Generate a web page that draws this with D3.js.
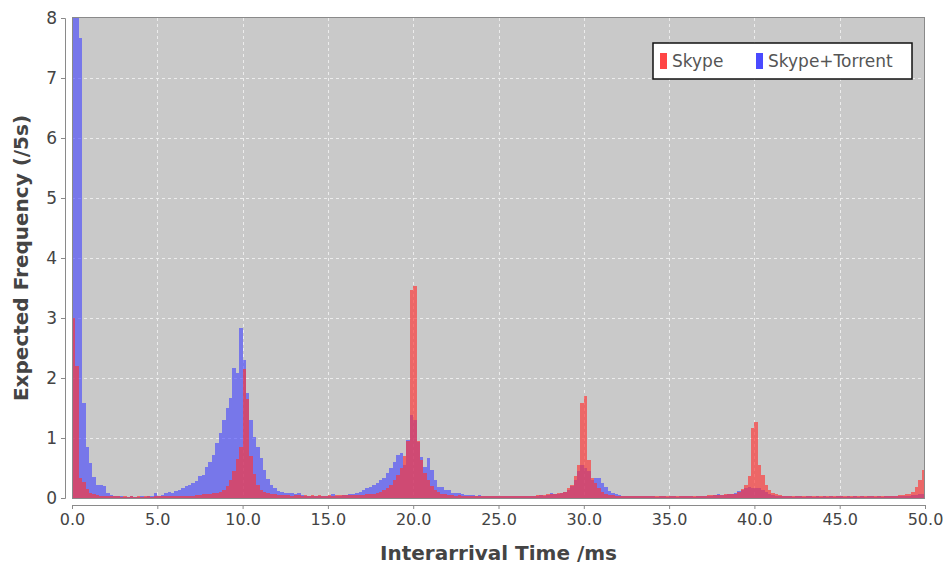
<!DOCTYPE html>
<html>
<head>
<meta charset="utf-8">
<script src="https://cdn.jsdelivr.net/npm/d3@7"></script>
<style>
  body { margin: 0; background: #fff; }
  text { font-family: "DejaVu Sans", sans-serif; }
</style>
</head>
<body>
<svg id="chart" width="950" height="568"></svg>
<script>

// histogram bins, 0.2 ms wide, starting at 0.0
var binWidth = 0.2;
var xTicks = [0, 5, 10, 15, 20, 25, 30, 35, 40, 45, 50];
var yTicks = [0, 1, 2, 3, 4, 5, 6, 7, 8];
var seriesNames = ["Skype", "Skype+Torrent"];

// Skype+Torrent (blue)
var torrent = [
  9.5, 8.8, 7.67, 1.58, 0.85, 0.58, 0.35, 0.22, 0.21, 0.2,
  0.09, 0.05, 0.04, 0.03, 0.03, 0.02, 0.02, 0.03, 0.02, 0.02,
  0.03, 0.02, 0.03, 0.04, 0.08, 0.04, 0.05, 0.08, 0.1, 0.09,
  0.12, 0.14, 0.17, 0.2, 0.22, 0.25, 0.28, 0.36, 0.38, 0.52,
  0.6, 0.72, 0.92, 1.08, 1.3, 1.5, 1.67, 2.17, 2.08, 2.83,
  2.3, 1.75, 1.3, 1.02, 0.85, 0.67, 0.47, 0.32, 0.22, 0.17,
  0.12, 0.1, 0.09, 0.08, 0.08, 0.07, 0.09, 0.05, 0.04, 0.04,
  0.04, 0.04, 0.03, 0.04, 0.03, 0.03, 0.06, 0.04, 0.04, 0.05,
  0.05, 0.06, 0.07, 0.08, 0.1, 0.13, 0.17, 0.19, 0.22, 0.25,
  0.3, 0.33, 0.42, 0.5, 0.6, 0.72, 0.75, 0.55, 0.97, 1.38,
  1.3, 0.94, 0.69, 0.52, 0.67, 0.47, 0.3, 0.19, 0.19, 0.13,
  0.13, 0.09, 0.09, 0.09, 0.06, 0.05, 0.05, 0.05, 0.04, 0.05,
  0.04, 0.04, 0.03, 0.04, 0.03, 0.03, 0.04, 0.03, 0.03, 0.03,
  0.03, 0.04, 0.03, 0.03, 0.04, 0.03, 0.04, 0.05, 0.04, 0.05,
  0.09, 0.06, 0.07, 0.08, 0.1, 0.14, 0.2, 0.3, 0.45, 0.55,
  0.5, 0.45, 0.3, 0.33, 0.33, 0.25, 0.18, 0.12, 0.08, 0.06,
  0.05, 0.04, 0.04, 0.03, 0.03, 0.03, 0.04, 0.03, 0.03, 0.03,
  0.03, 0.02, 0.03, 0.03, 0.02, 0.03, 0.03, 0.02, 0.03, 0.03,
  0.03, 0.03, 0.02, 0.03, 0.03, 0.04, 0.03, 0.04, 0.05, 0.06,
  0.05, 0.05, 0.06, 0.07, 0.09, 0.11, 0.14, 0.16, 0.18, 0.17,
  0.17, 0.16, 0.13, 0.1, 0.07, 0.05, 0.04, 0.04, 0.03, 0.03,
  0.03, 0.02, 0.03, 0.03, 0.02, 0.03, 0.03, 0.02, 0.03, 0.02,
  0.03, 0.02, 0.03, 0.02, 0.03, 0.03, 0.02, 0.03, 0.02, 0.03,
  0.02, 0.03, 0.02, 0.03, 0.03, 0.02, 0.03, 0.02, 0.03, 0.03,
  0.03, 0.03, 0.04, 0.03, 0.04, 0.04, 0.05, 0.05, 0.06, 0.06
];

// Skype alone (red)
var skype = [
  3.0, 2.2, 0.33, 0.27, 0.15, 0.08, 0.06, 0.05, 0.04, 0.04,
  0.03, 0.03, 0.03, 0.03, 0.02, 0.03, 0.02, 0.03, 0.02, 0.03,
  0.02, 0.03, 0.03, 0.02, 0.03, 0.03, 0.03, 0.03, 0.03, 0.03,
  0.03, 0.04, 0.03, 0.04, 0.04, 0.04, 0.05, 0.05, 0.06, 0.06,
  0.07, 0.08, 0.08, 0.1, 0.14, 0.2, 0.3, 0.45, 0.65, 0.85,
  2.15, 1.65, 0.7, 0.4, 0.22, 0.14, 0.1, 0.08, 0.06, 0.06,
  0.05, 0.05, 0.05, 0.05, 0.04, 0.05, 0.05, 0.04, 0.05, 0.04,
  0.05, 0.04, 0.05, 0.04, 0.04, 0.05, 0.04, 0.05, 0.05, 0.05,
  0.05, 0.05, 0.05, 0.05, 0.05, 0.05, 0.06, 0.06, 0.07, 0.08,
  0.1, 0.13, 0.17, 0.22, 0.3, 0.38, 0.5, 0.7, 0.95, 3.46,
  3.53, 0.95, 0.63, 0.42, 0.3, 0.2, 0.14, 0.1, 0.07, 0.06,
  0.05, 0.05, 0.04, 0.05, 0.04, 0.04, 0.04, 0.04, 0.04, 0.04,
  0.04, 0.04, 0.04, 0.03, 0.04, 0.04, 0.03, 0.04, 0.04, 0.04,
  0.04, 0.04, 0.04, 0.04, 0.04, 0.04, 0.05, 0.05, 0.05, 0.06,
  0.06, 0.07, 0.08, 0.08, 0.1, 0.17, 0.22, 0.36, 0.55, 1.58,
  1.7, 0.63, 0.33, 0.25, 0.17, 0.1, 0.07, 0.05, 0.05, 0.04,
  0.04, 0.04, 0.04, 0.04, 0.04, 0.03, 0.04, 0.04, 0.03, 0.04,
  0.04, 0.03, 0.04, 0.03, 0.04, 0.04, 0.03, 0.04, 0.04, 0.04,
  0.04, 0.04, 0.04, 0.04, 0.04, 0.04, 0.05, 0.05, 0.05, 0.05,
  0.05, 0.06, 0.06, 0.07, 0.07, 0.1, 0.15, 0.22, 0.36, 1.16,
  1.27, 0.55, 0.38, 0.22, 0.13, 0.08, 0.06, 0.05, 0.04, 0.04,
  0.04, 0.03, 0.03, 0.04, 0.03, 0.03, 0.03, 0.03, 0.03, 0.03,
  0.03, 0.03, 0.03, 0.03, 0.03, 0.03, 0.03, 0.03, 0.03, 0.03,
  0.03, 0.03, 0.03, 0.03, 0.03, 0.03, 0.03, 0.04, 0.04, 0.04,
  0.04, 0.04, 0.05, 0.05, 0.06, 0.07, 0.1, 0.19, 0.3, 0.47
];

var colors = ["rgba(255,50,50,0.65)", "rgba(70,70,255,0.62)"];

// plot area
var plotLeft = 72, plotRight = 925, plotTop = 18, plotBottom = 498;

var svg = d3.select("#chart");

var x = d3.scaleLinear().domain([0, 50]).range([plotLeft, plotRight]);
var y = d3.scaleLinear().domain([0, 8]).range([plotBottom, plotTop]);

// background
svg.append("rect")
    .attr("x", plotLeft).attr("y", plotTop)
    .attr("width", plotRight - plotLeft).attr("height", plotBottom - plotTop)
    .attr("fill", "#c9c9c9");

svg.append("clipPath").attr("id", "plotclip")
  .append("rect")
    .attr("x", plotLeft).attr("y", plotTop)
    .attr("width", plotRight - plotLeft).attr("height", plotBottom - plotTop);

// dashed white grid
var grid = svg.append("g").attr("stroke", "#ececec").attr("stroke-width", 1)
    .attr("stroke-dasharray", "3,3");
grid.selectAll("line.v")
    .data(xTicks.slice(1, -1))
    .enter().append("line")
    .attr("x1", function(d) { return Math.round(x(d)) + 0.5; })
    .attr("x2", function(d) { return Math.round(x(d)) + 0.5; })
    .attr("y1", plotTop).attr("y2", plotBottom);
grid.selectAll("line.h")
    .data(yTicks.slice(1, -1))
    .enter().append("line")
    .attr("y1", function(d) { return Math.round(y(d)) + 0.5; })
    .attr("y2", function(d) { return Math.round(y(d)) + 0.5; })
    .attr("x1", plotLeft).attr("x2", plotRight);

// bars: blue first, red drawn over it
var bars = svg.append("g").attr("clip-path", "url(#plotclip)");
[torrent, skype].forEach(function(series, i) {
    var color = i == 0 ? colors[1] : colors[0];
    bars.append("g").selectAll("rect")
        .data(series)
        .enter().append("rect")
        .attr("x", function(d, k) { return x(k * binWidth); })
        .attr("width", function(d, k) { return x((k + 1) * binWidth) - x(k * binWidth); })
        .attr("y", function(d) { return y(d); })
        .attr("height", function(d) { return y(0) - y(d); })
        .attr("fill", color)
        .attr("shape-rendering", "crispEdges");
});

// plot outline
svg.append("rect")
    .attr("x", plotLeft + 0.5).attr("y", plotTop - 0.5)
    .attr("width", plotRight - plotLeft - 1).attr("height", plotBottom - plotTop + 1)
    .attr("fill", "none").attr("stroke", "#8a8a8a");

// y axis, offset to the left of the plot
var yAxis = d3.axisLeft(y).tickValues(yTicks).tickSize(4).tickPadding(4)
    .tickFormat(d3.format("d"));
var gy = svg.append("g").attr("transform", "translate(65,0)").call(yAxis);

// x axis, offset below the plot
var xAxis = d3.axisBottom(x).tickValues(xTicks).tickSize(4).tickPadding(5)
    .tickFormat(d3.format(".1f"));
var gx = svg.append("g").attr("transform", "translate(0,505)").call(xAxis);

[gx, gy].forEach(function(g) {
    g.select(".domain").attr("stroke", "#8a8a8a");
    g.selectAll(".tick line").attr("stroke", "#8a8a8a");
    g.selectAll(".tick text").attr("fill", "#444").attr("font-size", "16px")
        .style("font-family", "DejaVu Sans, sans-serif");
});
gy.selectAll(".tick text").attr("font-size", "17px");

// axis titles
svg.append("text")
    .attr("x", (plotLeft + plotRight) / 2).attr("y", 560)
    .attr("text-anchor", "middle")
    .attr("font-size", "20px").attr("font-weight", "bold").attr("fill", "#444")
    .text("Interarrival Time /ms");

svg.append("text")
    .attr("transform", "translate(28," + ((plotTop + plotBottom) / 2) + ") rotate(-90)")
    .attr("text-anchor", "middle")
    .attr("font-size", "20px").attr("font-weight", "bold").attr("fill", "#444")
    .text("Expected Frequency (/5s)");

// legend
var legend = svg.append("g").attr("transform", "translate(653,43)");
legend.append("rect")
    .attr("width", 259).attr("height", 36)
    .attr("fill", "#fff").attr("stroke", "#111").attr("stroke-width", 1.5);
var legendX = [7, 103];
seriesNames.forEach(function(name, i) {
    legend.append("rect")
        .attr("x", legendX[i]).attr("y", 10)
        .attr("width", 7).attr("height", 16)
        .attr("fill", i == 0 ? "#ff4545" : "#4a4aff");
    legend.append("text")
        .attr("x", legendX[i] + 12).attr("y", 24)
        .attr("font-size", "17px").attr("fill", "#555")
        .text(name);
});

</script>
</body>
</html>
